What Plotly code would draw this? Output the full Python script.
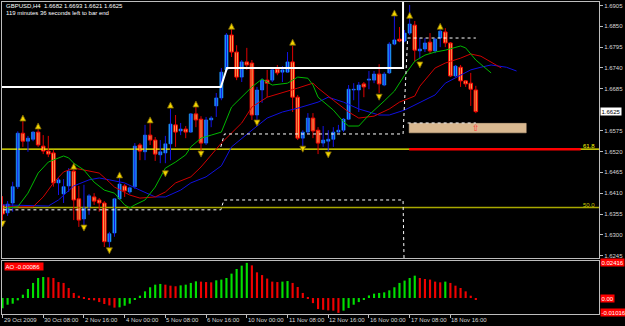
import plotly.graph_objects as go

# ---------------- data ----------------
opens = [1.6379,1.6358,1.6384,1.6427,1.6568,1.6547,1.6552,1.6571,1.6534,1.6521,
         1.6516,1.6437,1.6408,1.6429,1.6468,1.6395,1.6342,1.6371,1.6400,1.6392,
         1.6384,1.6282,1.6305,1.6395,1.6429,1.6413,1.6427,1.6537,1.6519,1.6563,
         1.6550,1.6511,1.6516,1.6540,1.6590,1.6574,1.6579,1.6571,1.6619,1.6605,
         1.6542,1.6603,1.6640,1.6661,1.6735,1.6827,1.6782,1.6716,1.6756,1.6753,
         1.6616,1.6682,1.6708,1.6708,1.6737,1.6729,1.6729,1.6756,1.6663,1.6555,
         1.6571,1.6608,1.6576,1.6542,1.6547,1.6552,1.6571,1.6576,1.6605,1.6682,
         1.6682,1.6698,1.6708,1.6708,1.6724,1.6695,1.6727,1.6803,1.6816,1.6811,
         1.6832,1.6853,1.6785,1.6790,1.6808,1.6785,1.6819,1.6835,1.6806,1.6719,
         1.6742,1.6706,1.6700,1.6682]
highs = [1.6402,1.6389,1.6440,1.6573,1.6600,1.6561,1.6573,1.6581,1.6563,1.6561,
         1.6524,1.6450,1.6447,1.6476,1.6479,1.6429,1.6432,1.6408,1.6410,1.6397,
         1.6389,1.6308,1.6397,1.6450,1.6434,1.6427,1.6542,1.6542,1.6590,1.6595,
         1.6558,1.6550,1.6561,1.6632,1.6616,1.6595,1.6587,1.6621,1.6637,1.6613,
         1.6611,1.6613,1.6674,1.6740,1.6832,1.6843,1.6800,1.6761,1.6793,1.6761,
         1.6690,1.6713,1.6735,1.6742,1.6748,1.6745,1.6782,1.6798,1.6669,1.6576,
         1.6621,1.6621,1.6584,1.6587,1.6576,1.6584,1.6590,1.6608,1.6695,1.6700,
         1.6703,1.6703,1.6732,1.6732,1.6750,1.6729,1.6808,1.6879,1.6848,1.6840,
         1.6906,1.6864,1.6819,1.6819,1.6832,1.6819,1.6845,1.6845,1.6808,1.6748,
         1.6748,1.6708,1.6727,1.6693]
lows = [1.6339,1.6350,1.6361,1.6421,1.6532,1.6519,1.6547,1.6532,1.6513,1.6505,
        1.6427,1.6405,1.6384,1.6413,1.6339,1.6321,1.6321,1.6353,1.6379,1.6361,
        1.6268,1.6268,1.6295,1.6392,1.6400,1.6408,1.6421,1.6497,1.6497,1.6537,
        1.6495,1.6489,1.6489,1.6497,1.6532,1.6563,1.6555,1.6569,1.6584,1.6516,
        1.6537,1.6584,1.6611,1.6655,1.6729,1.6769,1.6708,1.6703,1.6735,1.6603,
        1.6603,1.6648,1.6663,1.6703,1.6721,1.6703,1.6727,1.6624,1.6550,1.6532,
        1.6566,1.6555,1.6513,1.6532,1.6511,1.6532,1.6569,1.6571,1.6603,1.6655,
        1.6624,1.6663,1.6684,1.6700,1.6674,1.6692,1.6724,1.6800,1.6808,1.6808,
        1.6827,1.6756,1.6766,1.6782,1.6779,1.6779,1.6795,1.6795,1.6716,1.6716,
        1.6690,1.6690,1.6640,1.6621]
closes = [1.6355,1.6381,1.6427,1.6568,1.6547,1.6555,1.6571,1.6537,1.6521,1.6513,
          1.6437,1.6445,1.6427,1.6468,1.6392,1.6339,1.6373,1.6403,1.6389,1.6384,
          1.6282,1.6303,1.6395,1.6434,1.6416,1.6424,1.6534,1.6521,1.6563,1.6550,
          1.6513,1.6519,1.6540,1.6592,1.6571,1.6579,1.6571,1.6619,1.6603,1.6542,
          1.6603,1.6608,1.6661,1.6729,1.6827,1.6782,1.6716,1.6756,1.6748,1.6616,
          1.6682,1.6708,1.6700,1.6735,1.6727,1.6735,1.6756,1.6663,1.6555,1.6571,
          1.6608,1.6574,1.6542,1.6550,1.6552,1.6571,1.6576,1.6605,1.6684,1.6684,
          1.6695,1.6690,1.6711,1.6724,1.6698,1.6724,1.6803,1.6814,1.6811,1.6832,
          1.6856,1.6787,1.6790,1.6806,1.6785,1.6816,1.6837,1.6806,1.6719,1.6745,
          1.6706,1.6698,1.6684,1.6625]

ao_values = [-0.0071,-0.0046,-0.0039,-0.0016,0.0023,0.0062,0.0104,0.0138,0.0145,0.0143,
             0.0138,0.0110,0.0104,0.0069,0.0035,0.0016,0.0003,-0.0007,-0.0016,-0.0028,
             -0.0041,-0.0051,-0.0066,-0.0064,-0.0053,-0.0039,-0.0012,0.0016,0.0046,0.0074,
             0.0092,0.0097,0.0092,0.0085,0.0081,0.0087,0.0092,0.0104,0.0115,0.0113,
             0.0110,0.0108,0.0122,0.0127,0.0138,0.0168,0.0200,0.0223,0.0242,0.0225,
             0.0177,0.0158,0.0134,0.0113,0.0110,0.0113,0.0117,0.0104,0.0076,0.0035,
             0.0003,-0.0035,-0.0076,-0.0081,-0.0085,-0.0087,-0.0102,-0.0087,-0.0069,-0.0046,
             -0.0028,-0.0012,0.0018,0.0030,0.0035,0.0039,0.0053,0.0074,0.0104,0.0120,
             0.0138,0.0154,0.0138,0.0131,0.0127,0.0113,0.0108,0.0113,0.0104,0.0085,
             0.0069,0.0046,0.0016,-0.0009]

# Alligator lines (bar index, price)
lips_idx = [1,3,5,7,9,12,13,14,16,18,20,22,24,25,26,28,30,32,34,36,37,39,41,43,45,49,51,53,56,58,
            60,61,62,65,67,68,70,72,75,77,79,81,83,85,87,90,91,93,96]
lips_val = [1.6371,1.6374,1.6410,1.6463,1.6492,1.6508,1.6503,1.6489,1.6471,1.6439,1.6418,1.6410,
            1.6379,1.6371,1.6379,1.6392,1.6426,1.6476,1.6492,1.6511,1.6532,1.6555,1.6563,1.6571,
            1.6637,1.6690,1.6711,1.6695,1.6700,1.6716,1.6713,1.6695,1.6663,1.6629,1.6598,1.6587,
            1.6587,1.6616,1.6653,1.6679,1.6721,1.6758,1.6774,1.6782,1.6787,1.6798,1.6793,1.6761,1.6727]
teeth_idx = [1,6,8,10,12,14,16,19,21,22,25,27,30,32,34,37,39,43,47,49,52,55,58,61,62,65,68,70,73,
             76,78,81,82,85,87,90,92,94,96,98]
teeth_val = [1.6374,1.6374,1.6400,1.6437,1.6466,1.6476,1.6471,1.6463,1.6439,1.6426,1.6405,1.6397,
             1.6400,1.6413,1.6437,1.6453,1.6479,1.6542,1.6595,1.6637,1.6663,1.6674,1.6687,1.6700,
             1.6687,1.6655,1.6624,1.6608,1.6613,1.6632,1.6650,1.6666,1.6692,1.6740,1.6753,1.6766,
             1.6777,1.6771,1.6756,1.6740]
jaw_idx = [0,6,9,11,14,17,19,21,24,27,30,32,35,37,40,43,45,49,52,55,58,62,64,67,70,74,76,79,82,
           85,87,90,92,94,96,99,101]
jaw_val = [1.6379,1.6376,1.6376,1.6392,1.6429,1.6445,1.6450,1.6445,1.6437,1.6418,1.6400,1.6400,
           1.6418,1.6437,1.6453,1.6482,1.6532,1.6576,1.6608,1.6624,1.6634,1.6650,1.6663,1.6650,
           1.6632,1.6616,1.6616,1.6629,1.6648,1.6669,1.6700,1.6721,1.6735,1.6742,1.6748,1.6742,1.6732]

# Fractals
frac_up_idx = [4,7,14,23,29,33,38,45,57,77,80,86]
frac_up_val = [1.6616,1.6595,1.6489,1.6466,1.6611,1.6650,1.6653,1.6858,1.6816,1.6893,1.6887,1.6858]
frac_dn_idx = [0,16,21,32,39,50,59,64,74,82]
frac_dn_val = [1.6321,1.6310,1.6250,1.6453,1.6505,1.6587,1.6518,1.6503,1.6655,1.6740]

# Objects
white_idx = [-1,42.9,44.1,78.7,78.7]
white_val = [1.6690,1.6690,1.6740,1.6740,1.6914]
dotA_idx = [-1,42.9,43.5,78.7,78.9]
dotA_val = [1.6366,1.6366,1.6392,1.6392,1.6230]
dotB_idx = [42.9,43.6,78.7,79.6,93]
dotB_val = [1.6532,1.6566,1.6566,1.6819,1.6819]
dotC_idx = [79.6,93]
dotC_val = [1.6595,1.6595]
fib618 = 1.6526
fib500 = 1.6372
red_level_idx = [79.9,113.6]
zone_idx = [79.9,102.9]
zone_val = [1.6569,1.6594]
zone_arrow_idx = 93
zone_arrow_val = 1.6582

price_ticks = [1.6905,1.6850,1.6795,1.6740,1.6685,1.6575,1.6520,1.6465,1.6410,1.6355,1.6300,1.6245]
date_idx = [0,8,16,24,32,40,48,56,64,72,80,88]
date_labels = ["29 Oct 2009","30 Oct 08:00","2 Nov 16:00","4 Nov 00:00","5 Nov 08:00","6 Nov 16:00",
               "10 Nov 00:00","11 Nov 08:00","12 Nov 16:00","16 Nov 00:00","17 Nov 08:00","18 Nov 16:00"]
title1 = "GBPUSD,H4  1.6682 1.6693 1.6621 1.6625"
title2 = "119 minutes 36 seconds left to bar end"
ao_label = "AO -0.00086"
ao_max, ao_min = 0.02416, -0.01016

# ---------------- figure ----------------
n = len(opens)
idx = list(range(n))
bull = [i for i in idx if closes[i] >= opens[i]]
bear = [i for i in idx if closes[i] < opens[i]]

FONT = "Liberation Sans, Arial, sans-serif"
fig = go.Figure()

def wick_xy(ids):
    xs, ys = [], []
    for i in ids:
        xs += [i, i, None]
        ys += [lows[i], highs[i], None]
    return xs, ys

# fib lines
fig.add_trace(go.Scatter(x=[-1, 120], y=[fib500, fib500], mode="lines",
                         line=dict(color="#A8A800", width=1.5), xaxis="x", yaxis="y"))
fig.add_trace(go.Scatter(x=[-1, 120], y=[fib618, fib618], mode="lines",
                         line=dict(color="#FFFF00", width=1.2), xaxis="x", yaxis="y"))
fig.add_trace(go.Scatter(x=red_level_idx, y=[fib618, fib618], mode="lines",
                         line=dict(color="#FF0000", width=2.5), xaxis="x", yaxis="y"))
# zone
fig.add_trace(go.Scatter(x=[zone_idx[0], zone_idx[1], zone_idx[1], zone_idx[0], zone_idx[0]],
                         y=[zone_val[0], zone_val[0], zone_val[1], zone_val[1], zone_val[0]],
                         fill="toself", fillcolor="#D9B890", mode="lines",
                         line=dict(color="#D9B890", width=0.5), xaxis="x", yaxis="y"))

# wicks
wx, wy = wick_xy(bull)
fig.add_trace(go.Scatter(x=wx, y=wy, mode="lines", line=dict(color="#1414E6", width=1)))
wx, wy = wick_xy(bear)
fig.add_trace(go.Scatter(x=wx, y=wy, mode="lines", line=dict(color="#E00000", width=1)))
# bodies
fig.add_trace(go.Bar(x=bull, base=[opens[i] for i in bull], y=[closes[i] - opens[i] for i in bull],
                     width=0.62, marker=dict(color="#1E96FF", line=dict(color="#1E96FF", width=0.6))))
fig.add_trace(go.Bar(x=bear, base=[opens[i] for i in bear], y=[closes[i] - opens[i] for i in bear],
                     width=0.7, marker=dict(color="#FFC460", line=dict(color="#FF0000", width=1))))

# alligator
fig.add_trace(go.Scatter(x=jaw_idx, y=jaw_val, mode="lines", line=dict(color="#1010E0", width=1)))
fig.add_trace(go.Scatter(x=teeth_idx, y=teeth_val, mode="lines", line=dict(color="#D00000", width=1)))
fig.add_trace(go.Scatter(x=lips_idx, y=lips_val, mode="lines", line=dict(color="#00B800", width=1)))

# white step & dotted lines
fig.add_trace(go.Scatter(x=white_idx, y=white_val, mode="lines", line=dict(color="#FFFFFF", width=2)))
for xs, ys in [(dotA_idx, dotA_val), (dotB_idx, dotB_val), (dotC_idx, dotC_val)]:
    fig.add_trace(go.Scatter(x=xs, y=ys, mode="lines", line=dict(color="#FFFFFF", width=1, dash="dot")))

# fractals
fig.add_trace(go.Scatter(x=frac_up_idx, y=frac_up_val, mode="markers",
                         marker=dict(symbol="arrow-up", size=6, color="#F2D400",
                                     line=dict(color="#7A6400", width=0.8))))
fig.add_trace(go.Scatter(x=frac_dn_idx, y=frac_dn_val, mode="markers",
                         marker=dict(symbol="arrow-down", size=6, color="#F2D400",
                                     line=dict(color="#7A6400", width=0.8))))

# AO
ao_colors = ["#00E000" if i == 0 or ao_values[i] > ao_values[i - 1] else "#F00000" for i in idx]
fig.add_trace(go.Bar(x=idx, y=ao_values, width=0.42, marker=dict(color=ao_colors, line=dict(width=0)),
                     xaxis="x2", yaxis="y2"))

W, H = 625, 326
def px_x(p): return p / W
def px_y(p): return 1 - p / H

xr = [-0.1, 117.2]
axis_common = dict(showgrid=False, zeroline=False, showline=True, mirror=True,
                   linecolor="#BDBDBD", linewidth=1)
fig.update_layout(
    width=W, height=H, margin=dict(l=0, r=0, t=0, b=0),
    paper_bgcolor="#000000", plot_bgcolor="#000000",
    showlegend=False, barmode="overlay", hovermode=False,
    font=dict(family=FONT, size=6, color="#D8D8D8"),
    xaxis=dict(domain=[px_x(2), px_x(599)], range=xr, anchor="y", showticklabels=False, ticks="",
               **axis_common),
    yaxis=dict(domain=[px_y(258), px_y(2)], range=[1.6239, 1.6914], side="right", anchor="x",
               tickvals=price_ticks, ticktext=[f"{v:.4f}" for v in price_ticks],
               ticks="outside", ticklen=3, tickcolor="#BDBDBD",
               tickfont=dict(family=FONT, size=6, color="#D8D8D8"), **axis_common),
    xaxis2=dict(domain=[px_x(2), px_x(599)], range=xr, anchor="y2", showticklabels=False,
                tickvals=date_idx, ticks="outside", ticklen=3, tickcolor="#BDBDBD", **axis_common),
    yaxis2=dict(domain=[px_y(314), px_y(261)], range=[-0.0110, 0.0255], side="right", anchor="x2",
                showticklabels=False, ticks="", **axis_common),
)

ann = []
for i, t in zip(date_idx, date_labels):
    ann.append(dict(x=i, y=px_y(320), xref="x2", yref="paper", text=t, showarrow=False,
                    xanchor="left", yanchor="middle", xshift=-1,
                    font=dict(family=FONT, size=6, color="#D8D8D8")))
ann.append(dict(x=px_x(4), y=px_y(6), xref="paper", yref="paper", text=title1, showarrow=False,
                xanchor="left", yanchor="middle", font=dict(family=FONT, size=6, color="#FFFFFF")))
ann.append(dict(x=px_x(4), y=px_y(13.5), xref="paper", yref="paper", text=title2, showarrow=False,
                xanchor="left", yanchor="middle", font=dict(family=FONT, size=6, color="#FFFFFF")))
ann.append(dict(x=px_x(600), y=closes[-1], xref="paper", yref="y", text=f"{closes[-1]:.4f}",
                showarrow=False, xanchor="left", yanchor="middle", bgcolor="#FFFFFF",
                borderpad=0.5, font=dict(family=FONT, size=6, color="#000000")))
ann.append(dict(x=px_x(597), y=fib618, xref="paper", yref="y", text="61.8", showarrow=False,
                xanchor="right", yanchor="bottom", yshift=-2,
                font=dict(family=FONT, size=6, color="#FFFF00")))
ann.append(dict(x=px_x(597), y=fib500, xref="paper", yref="y", text="50.0", showarrow=False,
                xanchor="right", yanchor="bottom", yshift=-2,
                font=dict(family=FONT, size=6, color="#C8C800")))
ann.append(dict(x=zone_arrow_idx, y=zone_arrow_val, xref="x", yref="y", text="⇧", showarrow=False,
                font=dict(family="DejaVu Sans", size=9, color="#FF3030")))
# AO labels
ann.append(dict(x=px_x(4), y=px_y(266), xref="paper", yref="paper", text=ao_label + "  ",
                showarrow=False, xanchor="left", yanchor="middle", bgcolor="#FF0000", borderpad=0.5,
                font=dict(family=FONT, size=6, color="#FFFFFF")))
for v, lab in [(ao_max, f"{ao_max:.5f}"), (0.0, "0.00"), (ao_min, f"{ao_min:.5f}")]:
    ann.append(dict(x=px_x(600), y=v, xref="paper", yref="y2", text=lab, showarrow=False,
                    xanchor="left", yanchor="middle", bgcolor="#FF0000", borderpad=0.5,
                    font=dict(family=FONT, size=6, color="#FFFFFF")))
fig.update_layout(annotations=ann)

fig.write_html("out.html")
